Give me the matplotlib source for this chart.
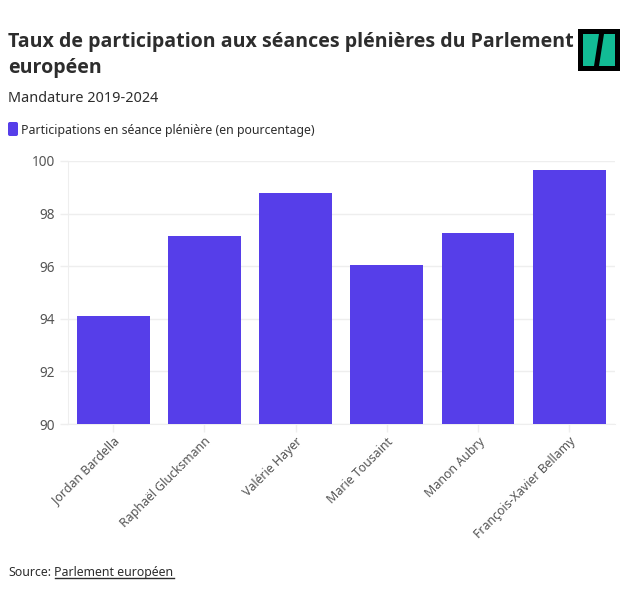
import matplotlib
matplotlib.use("Agg")
import matplotlib.pyplot as plt
from matplotlib.patches import Rectangle, FancyBboxPatch, Polygon

plt.rcParams['font.family'] = ['Noto Sans', 'DejaVu Sans']

names = ["Jordan Bardella", "Raphaël Glucksmann", "Valérie Hayer", "Marie Tousaint",
         "Manon Aubry", "François-Xavier Bellamy"]
participation = [94.1, 97.15, 98.8, 96.05, 97.25, 99.65]
y_ticks = [90, 92, 94, 96, 98, 100]

W = 640
H = 603
bar_color = "#563ee9"
text_color = "#2d2d2d"
tick_color = "#555555"
grid_color = "#eeeeee"
title_font = ['Open Sans', 'DejaVu Sans']

fig = plt.figure(figsize=(W / 100, H / 100), dpi=100)


# pixel position from the top left -> figure fraction
def fx(x):
    return x / W


def fy(y):
    return 1 - y / H


ax = fig.add_axes([fx(67.6), fy(424), (614.8 - 67.6) / W, (424 - 161) / H])
ax.bar(range(len(names)), participation, width=0.8, color=bar_color, zorder=3)
ax.set_xlim(-0.5, len(names) - 0.5)
ax.set_ylim(90, 100)
ax.set_yticks(y_ticks)
ax.set_xticks(range(len(names)))
ax.set_xticklabels(names, rotation=45, ha="right", rotation_mode="anchor", fontsize=8.9, color=tick_color)
ax.tick_params(axis="y", length=6, color=grid_color, width=1, labelsize=9.8, labelcolor=tick_color, pad=3)
ax.tick_params(axis="x", length=6, color=grid_color, width=1, pad=2)
ax.grid(axis="y", color=grid_color, linewidth=1, zorder=0)
for side in ["top", "right"]:
    ax.spines[side].set_visible(False)
for side in ["left", "bottom"]:
    ax.spines[side].set_color(grid_color)

# titles
fig.text(fx(8), fy(47), "Taux de participation aux séances plénières du Parlement", fontsize=14.1,
         fontweight="bold", family=title_font, color=text_color, va="baseline")
fig.text(fx(8), fy(73), "européen", fontsize=14.1, fontweight="bold", family=title_font, color=text_color,
         va="baseline")
fig.text(fx(8), fy(102), "Mandature 2019-2024", fontsize=10.4, color=text_color, va="baseline")

# legend
fig.add_artist(FancyBboxPatch((fx(8), fy(136)), 10 / W, 14 / H, boxstyle="round,pad=0,rounding_size=0.003",
                              transform=fig.transFigure, facecolor=bar_color, edgecolor="none"))
fig.text(fx(21), fy(134), "Participations en séance plénière (en pourcentage)", fontsize=8.85,
         color=text_color, va="baseline")

# source with underlined link
fig.text(fx(8), fy(576), "Source:", fontsize=8.85, color=text_color, va="baseline")
fig.canvas.draw()
renderer = fig.canvas.get_renderer()
x_link = 54.5
link = fig.text(x_link / W, fy(576), "Parlement européen", fontsize=8.85, color=text_color, va="baseline")
link_end = link.get_window_extent(renderer).x1
fig.add_artist(plt.Line2D([x_link / W, link_end / W], [fy(577.5), fy(577.5)], color=text_color, linewidth=1))

# logo
fig.add_artist(Rectangle((fx(578), fy(71)), 42 / W, 42 / H, transform=fig.transFigure, facecolor="black",
                         edgecolor="none"))
fig.add_artist(Rectangle((fx(583), fy(66)), 32 / W, 32 / H, transform=fig.transFigure, facecolor="#12bc95",
                         edgecolor="none"))
fig.add_artist(Polygon([(fx(599), fy(34)), (fx(604), fy(34)), (fx(599), fy(66)), (fx(594), fy(66))],
                       transform=fig.transFigure, facecolor="black", edgecolor="none"))

fig.savefig("out.png", dpi=100)
